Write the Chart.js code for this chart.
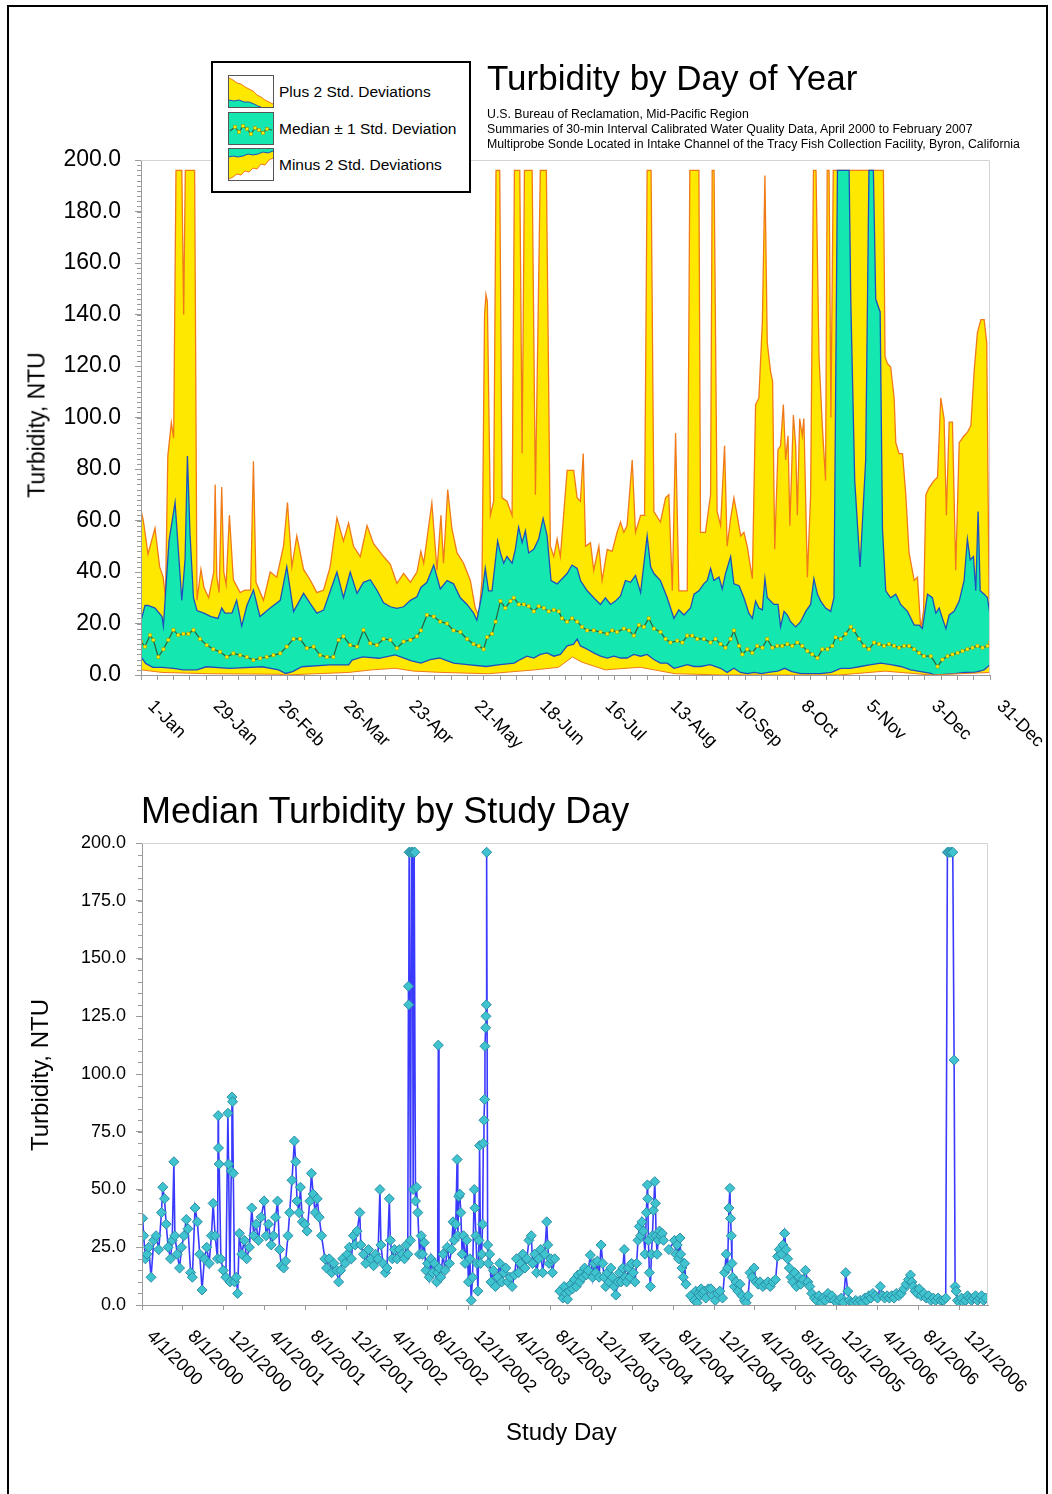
<!DOCTYPE html>
<html><head><meta charset="utf-8">
<script src="https://cdn.jsdelivr.net/npm/chart.js@4.4.1/dist/chart.umd.min.js"></script>
<style>
html,body{margin:0;padding:0;background:#fff}
body{width:1052px;height:1494px;position:relative;overflow:hidden;font-family:"Liberation Sans",Arial,sans-serif;color:#000}
#frame{position:absolute;left:7px;top:5px;width:1041px;height:1530px;border:2px solid #000;box-sizing:border-box}
canvas{position:absolute;left:0}
#c1{top:0}
#c2{top:780px}
.t{position:absolute;white-space:nowrap}
.rot{position:absolute;white-space:nowrap;transform:translate(-50%,-50%) rotate(-90deg)}
#legend{position:absolute;left:211px;top:61px;width:260px;height:132px;border:2px solid #000;box-sizing:border-box;background:#fff}
#legend .row{position:absolute;left:15px;height:33px;display:flex;align-items:center}
#legend .row span{margin-left:5px;font-size:15.5px}
#legend svg{display:block}
</style></head><body>
<div id="frame"></div>
<canvas id="c1" width="1052" height="780"></canvas>
<canvas id="c2" width="1052" height="714"></canvas>

<div class="t" style="left:487px;top:60px;font-size:35px;line-height:35px">Turbidity by Day of Year</div>
<div class="t" style="left:487px;top:107px;font-size:12.3px;line-height:15px">U.S. Bureau of Reclamation, Mid-Pacific Region<br>Summaries of 30-min Interval Calibrated Water Quality Data, April 2000 to February 2007<br>Multiprobe Sonde Located in Intake Channel of the Tracy Fish Collection Facility, Byron, California</div>

<div id="legend">
 <div class="row" style="top:12px">
  <svg width="46" height="33"><rect x="0.5" y="0.5" width="45" height="32" fill="#fff" stroke="#555"/>
   <polygon points="1,3 5,5 9,8 13,9 17,12 21,14 25,16 29,20 33,22 37,25 41,27 45,29 45,32 1,32" fill="#ffe800"/>
   <polyline points="1,3 5,5 9,8 13,9 17,12 21,14 25,16 29,20 33,22 37,25 41,27 45,29" fill="none" stroke="#f07a1a" stroke-width="1"/>
   <polygon points="1,25 6,26 11,25 16,27 21,27 26,29 30,31 33,32 1,32" fill="#14e8b0"/>
   <polyline points="1,25 6,26 11,25 16,27 21,27 26,29 30,31 33,32" fill="none" stroke="#1f4fbf" stroke-width="1"/>
   <rect x="0.5" y="0.5" width="45" height="32" fill="none" stroke="#555"/></svg>
  <span>Plus 2 Std. Deviations</span></div>
 <div class="row" style="top:49px">
  <svg width="46" height="33"><rect x="0.5" y="0.5" width="45" height="32" fill="#14e8b0" stroke="#555"/>
   <polyline points="2,19 7,15 11,20 15,14 19,17 23,22 27,16 31,18 35,21 39,17 44,18" fill="none" stroke="#2c5e3b" stroke-width="1.2"/>
   <g fill="#fff200" stroke="#a08a00" stroke-width="0.5">
   <rect x="5.5" y="13.5" width="3" height="3"/><rect x="9.5" y="18.5" width="3" height="3"/><rect x="13.5" y="12.5" width="3" height="3"/><rect x="17.5" y="15.5" width="3" height="3"/><rect x="21.5" y="20.5" width="3" height="3"/><rect x="25.5" y="14.5" width="3" height="3"/><rect x="29.5" y="16.5" width="3" height="3"/><rect x="33.5" y="19.5" width="3" height="3"/><rect x="37.5" y="15.5" width="3" height="3"/></g>
  </svg>
  <span>Median ± 1 Std. Deviation</span></div>
 <div class="row" style="top:85px">
  <svg width="46" height="33"><rect x="0.5" y="0.5" width="45" height="32" fill="#ffe800" stroke="#555"/>
   <polygon points="1,1 45,1 45,3 40,5 35,4 30,6 25,7 20,6 15,8 10,9 5,8 1,9" fill="#14e8b0"/>
   <polyline points="45,3 40,5 35,4 30,6 25,7 20,6 15,8 10,9 5,8 1,9" fill="none" stroke="#1f4fbf" stroke-width="1"/>
   <polygon points="1,31 5,29 9,26 13,27 17,23 21,24 25,20 29,21 33,16 37,17 41,12 45,10 45,32 1,32" fill="#fff"/>
   <polyline points="1,31 5,29 9,26 13,27 17,23 21,24 25,20 29,21 33,16 37,17 41,12 45,10" fill="none" stroke="#f07a1a" stroke-width="1"/>
   <rect x="0.5" y="0.5" width="45" height="32" fill="none" stroke="#555"/></svg>
  <span>Minus 2 Std. Deviations</span></div>
</div>

<div class="rot" style="left:37px;top:425px;font-size:23px">Turbidity, NTU</div>

<div class="t" style="left:141px;top:793px;font-size:36px;line-height:36px">Median Turbidity by Study Day</div>
<div class="rot" style="left:40px;top:1075px;font-size:24px">Turbidity, NTU</div>
<div class="t" style="left:506px;top:1420px;font-size:24px;line-height:24px">Study Day</div>

<script>
// ================= TOP CHART: statistics by day of year =================
const topTickLabels = ['1-Jan','29-Jan','26-Feb','26-Mar','23-Apr','21-May','18-Jun','16-Jul','13-Aug','10-Sep','8-Oct','5-Nov','3-Dec','31-Dec'];
const topTickDays = [1,29,57,85,113,141,169,197,225,253,281,309,337,365];

// Plus 2 standard deviations (capped at chart top)
const plus2Day = [1,2,4,5.5,7,9,10.5,11.5,12.5,14,15,16,18.5,19.3,20,24,25,26.7,28,30,32.2,32.8,33.5,34.5,35.6,36.5,37.5,38.9,40.6,43.5,45.6,48,49.2,50.3,53.5,56.4,59.2,62.1,63.8,65.7,67.8,70.7,73.5,76.4,79.3,82.1,85,87.8,90,92.1,95,97.9,100.7,105,107.9,110.7,113.6,116.5,119.3,121,122.2,125.7,127.9,129.6,130.7,132.5,134.3,136.5,139.3,142.2,144.3,145.8,147.2,148.3,148.9,149.5,150.8,152.2,153.2,154.8,155.8,157.9,160.1,161.1,163.4,164.4,165.4,168.7,170.1,172.2,174.8,176.5,178,179.4,180.8,183.7,186.5,188,189.4,190.6,191.6,193.7,195.1,197.3,198.7,200.9,203,205.1,206.6,208,209.4,211.6,213,215.2,216.9,218,219.7,220.9,223.7,225.9,227.3,228.8,230.2,231.6,233.8,235.2,236.3,240.2,240.9,243,245.2,245.9,246.7,248,249.5,251.2,252.3,253.8,255.2,256.6,258.1,259.5,260.9,263.1,264.5,265.9,267.4,268.5,269.5,270.9,271.8,272.7,274.1,275.2,276.4,277.4,278.4,279.2,280.7,281.7,282.4,283.4,284.5,285.2,286.7,288.1,289.3,290.4,291.7,293.1,294.5,295.2,296,296.8,297.8,319.3,320,321,322.4,323.9,324.6,326,327.5,328.9,330.3,332.5,333.9,335.3,336.5,337.5,338.9,341,342.5,343.9,345.3,346.3,347.5,348.9,350.3,351.8,353.9,355.3,356.8,358.2,359.6,361.1,362.5,363.6,364.6,365];
const plus2NTU = [64,60,47,52,57,42,38,30,85,98,92,196,196,140,196,196,29,41,34,30,40,74,38,32,73,40,35,62,37,32,33,33,83,36,29,40,38,50,67,42,54,41,37,32,33,42,61,52,59,50,46,58,51,46,43,35.6,39.5,36,40,48,43.4,66.8,40.7,62,43.4,72,56.8,47.4,43.4,36.7,26,23,36.7,140,147.7,145,62,67.5,196,196,68.8,67.5,62,196,196,86,196,196,70,196,196,50,46,52.8,46,79.5,79.5,68.8,67.5,86,50,51.4,40.7,50,36.7,48.8,48,55.4,59.4,55.4,58,83.5,55.4,62,62,196,196,63.5,59.4,68.8,70,32.7,94,32.7,32.7,32.7,196,196,55.4,55.4,70,196,196,63.5,58,89,50,60.8,68.8,62,54,55.4,50,37.4,105,107.6,137,194,129,118,114,48.8,87.5,89,105,83.5,92.9,58,101,89,62,99.6,92.9,99.6,38,70,196,196,123.6,96.9,75.5,196,196,100,196,196,123.6,121,119.6,107.6,90.2,86,86,70,47.4,36.7,38,18,24.7,70,72.8,75.5,76.8,107.6,99.6,62,98.2,98.2,40.7,90.2,92.9,94.2,96.9,118,133,138,138,129,30,30];

// Median + 1 standard deviation
const plus1Day = [1,2.7,4,7,10,10.6,13,15.6,18.5,19.9,20.9,22,23.5,25,28,31,34,35.6,37,40,42,44.2,46.4,49.2,52,56.4,60.7,63.5,66.4,70.7,73.5,76.4,79.3,82.1,85,87.8,90.7,93.6,96.4,99.3,102.1,105,107.9,110.7,113.6,116.5,119.3,121,123.6,126.5,129.3,132.2,135,137.9,140.8,143.6,145,147.2,148.6,150,151.5,153.9,155.1,156.5,157.9,160.1,161.5,162.9,164.4,165.8,167.2,169.4,171.5,173.4,175.1,176.8,179.4,183.7,185.8,188,189.4,192.3,195.1,198,200.1,202.3,204.4,206.6,208.7,210.9,213,215.2,218,219.5,220.9,223.7,226.6,229.5,231.6,233.8,236.6,238.1,240.2,242.3,243.8,245.2,246.6,248.8,250.2,251.6,253.8,255.2,257.4,259.5,261.6,263.1,264.5,265.9,267.4,268.5,269.5,272.4,274.1,275.2,276.7,278.1,279.5,281.7,283.8,286,288.1,289.5,291,292.4,294.5,296.7,298.1,299.6,304.6,305.3,307,309.3,311.7,313.1,315,316,317.9,318.9,320.3,322.4,324.6,326.7,329.6,332.5,334.6,336,338.2,340.3,341.8,343.2,344.6,346.1,347.5,349.6,351.8,353.9,355.3,356.5,357.9,358.9,359.9,360.8,362.5,363.9,365];
const plus1NTU = [21,27,27,26,22.7,19,52,67,29,45,85,55,30,25,24,22.7,22,26,24,24,29,19,27,33,22.7,26,29,42,24.6,31.7,27.8,24,25.2,32.4,40,30,40,31.7,36,37,33,28,26.5,25.9,26.5,29,30.4,34,36,42.7,33.4,36.7,35.4,30,27.4,24,21.3,31.4,41.4,32.7,32.7,52,47.4,43.4,46,43.4,48.8,57.4,51.4,56,47.4,48.8,52.8,60.8,54,36.7,35.4,39.4,42.7,41.4,36.7,32.7,30,27.4,30,27.4,28.7,30.7,36.7,36,38.7,32,54,42,39.4,36.7,30,22,25.3,23.3,26,31.4,32.7,35.4,36.7,41.4,36.7,38,33.4,39.4,46,35.4,34.7,30,24,22,28.7,26,25.3,37.4,30,27.4,27.4,18.7,24.7,23.3,20.7,18.7,20.7,24.7,27.4,37.4,31.4,28.7,26,24.7,30,196,196,146,75.5,42,83.5,196,196,146,141,56.8,32.7,30,31.4,27.4,24.7,19.4,19.4,18,31.4,30,24,26,22,18,23.3,24.7,28.7,36.7,52.8,44.7,46,32.7,63.5,32.7,31.4,30,23.3];

// Median
const medianDay = [1,2.7,4.9,6.3,8.4,10.6,12.7,14.9,17,19.2,21.3,23.5,26.3,29.2,32,34.9,37.8,40.6,43.5,46.4,49.2,52.1,54.9,57.8,60.7,63.5,66.4,69.2,72.1,75,77.8,80.7,83.5,85.7,87.8,90.7,93.6,96.4,99.3,102.1,105,107.9,110.7,113.6,116.5,119.3,121,123.6,126.5,129.3,132.2,135,137.9,140.8,143.6,145.8,147.9,149.4,151.5,153,155.1,157.2,159.4,160.8,163,165.1,167.2,169.4,171.5,173.7,175.8,178,180.1,181.5,183.7,185.8,188,190.1,192.3,195.1,198,200.9,203,205.1,208,210.2,212.3,214.5,216.6,218.7,220.9,223.7,225.9,228,230.9,233.1,235.2,237.3,239.5,242.3,245.2,247.3,249.5,251.6,253.8,255.2,257.4,258.8,260.9,263.1,265.2,267.4,269.5,271.7,273.8,275.9,278.1,280.2,282.4,284.5,286.7,288.8,291,293.1,295.3,297.4,298.8,301,303.1,305.3,306.7,308.9,311,313.1,315.3,317.4,319.6,321.7,323.9,326,328.2,330.3,332.5,334.6,336.7,339.6,342.5,344.6,346.8,348.9,351.1,353.2,355.3,357.5,359.6,361.8,363.9,365];
const medianNTUByDay = [13,11,15.5,13.6,7,10,13.6,17.5,15.5,16,16,17.5,14,11.6,10,9,7,8.4,7.7,7,5.8,6.5,7,7.7,8.4,11,14,14,10.4,11,7.7,7,7,13.6,15,11.6,11,17.5,12.3,11.6,14,13.6,10.4,13,13.6,15,17.3,23.3,22.7,20.7,20,17.3,16.7,14,12,11.3,10,14.7,16,20.7,28.7,26,28.7,30,27.4,27.4,26.7,24.7,26.7,26,24.7,25.3,24.7,22,20.7,22,20.7,18.7,17.3,17.3,16.7,16,17.3,16.7,18,17.3,15.3,19.4,18.7,22,18,16.7,14,12.6,13.3,12.6,15.3,15.3,14,14,12.6,14,12,10.6,14,17.3,11.3,8,10,8.6,11.3,10.6,14,10.6,11.3,11.3,12,11.3,12.6,11.3,9.3,8,6.6,10,10,11.3,14.6,14,16,18.7,17.3,14,11.3,10,12.6,12,11.3,12,11.3,10.6,11.3,11.3,10,8.6,7.3,7.3,3.3,6,7.3,8,8.6,9.3,10,10.6,11.3,10.6,11.3,12.6];

// Median - 1 standard deviation
const minus1Day = [1,3,6,10,15,19,25,29,39,53,60,63,66,70,82,90,91.5,96,103,110,117,121,125,129,135,141,149,155,161,163.6,166.5,169.4,172.2,175.1,178,180.8,183.7,186.5,188,189.4,192.3,195.1,198,200.9,203.7,206.6,209.4,212.3,215.2,218,220.9,223.7,226.6,229.5,232.3,235.2,238.1,241,245,249.5,252.3,255.2,258,261,264,267,270,274,277,280,284,288,292,297,301,305,309.5,314,318.2,322.4,326.7,331,335.3,339.6,341,344,347,350,354,358.5,362.5,365];
const minus1NTU = [7,4.5,3,3,2.6,2,2,3.2,2.6,3.2,2,0.6,1.3,3.2,3.9,3.9,5.8,7,6.5,7.8,5.5,4.6,6,6.6,4.6,4,3.3,4,4.6,6,7.3,6.6,8,8.6,7.3,8,11.3,12,14,11.3,10,8.6,7.3,6.6,7.3,6.6,6.6,8,7.3,8,6,4.6,4.6,2.6,3.3,4,3.3,3.3,4,2.6,1,2.6,1,0.5,1,0.5,1,1.5,2.6,1.3,0.5,0.5,0.5,1,2.6,2.6,3.3,4,4.6,4,3.3,2,1.3,0.6,0.1,0.1,0.3,0.5,1,1,2,4];

// Minus 2 standard deviations
const minus2Day = [1,10,30,60,63,90,100,110,118,130,150,170,180,186,190,200,215,230,250,300,320,340,365];
const minus2NTU = [2,1,0.5,0.3,0,1,2,2.6,1.5,1,0.5,2,3,7,5,2,3,0.5,0,0,1.5,0,1];

// ================= BOTTOM CHART: median by study day =================
const studyTickLabels = ['4/1/2000','8/1/2000','12/1/2000','4/1/2001','8/1/2001','12/1/2001','4/1/2002','8/1/2002','12/1/2002','4/1/2003','8/1/2003','12/1/2003','4/1/2004','8/1/2004','12/1/2004','4/1/2005','8/1/2005','12/1/2005','4/1/2006','8/1/2006','12/1/2006'];
// days counted from 4/1/2000
const studyDay = [2,5,10,15,20,27,35,42,50,58,62,67,72,78,85,90,95,98,105,112,118,125,132,137,145,150,158,165,172,179,186,193,200,207,212,218,225,227,228,230,235,242,250,256,258,262,266,268,270,272,276,281,285,290,297,305,312,320,327,333,340,347,355,364,370,377,385,392,398,404,410,415,422,428,435,440,447,454,458,462,468,472,478,485,492,500,505,510,516,522,528,535,545,550,558,565,572,580,586,592,598,605,612,618,624,630,635,641,649,652,660,667,675,682,690,696,703,709,712,718,725,730,737,740,746,752,760,767,775,782,788,792,794,795,796,798,800,803,806,808,811,813,815,818,822,827,832,836,841,846,851,856,861,866,872,878,881,883,885,890,897,903,910,916,922,927,930,935,939,941,944,947,950,954,958,963,968,973,977,981,985,990,992,995,998,1001,1004,1006,1009,1012,1015,1017,1019,1021,1022,1024,1025,1026,1027,1030,1032,1036,1040,1047,1053,1060,1066,1072,1078,1084,1090,1097,1103,1110,1116,1122,1128,1135,1141,1147,1153,1160,1164,1170,1176,1182,1188,1194,1200,1206,1209,1213,1218,1223,1230,1236,1245,1254,1258,1263,1268,1273,1278,1283,1289,1294,1299,1304,1309,1314,1319,1324,1330,1336,1343,1347,1352,1357,1362,1368,1373,1377,1382,1387,1392,1397,1402,1407,1412,1418,1423,1428,1433,1437,1440,1444,1449,1454,1459,1464,1469,1474,1478,1482,1486,1490,1494,1499,1503,1506,1507,1509,1512,1515,1518,1521,1524,1528,1530,1532,1535,1538,1542,1546,1550,1554,1557,1570,1587,1591,1595,1599,1603,1605,1609,1613,1617,1621,1625,1635,1646,1650,1654,1658,1662,1666,1670,1675,1680,1688,1695,1701,1708,1715,1722,1730,1736,1741,1745,1749,1752,1754,1756,1758,1760,1765,1770,1776,1782,1788,1795,1800,1806,1812,1818,1824,1830,1836,1842,1850,1858,1865,1872,1880,1888,1894,1899,1905,1910,1915,1919,1924,1929,1934,1939,1945,1950,1957,1963,1970,1977,1984,1990,1996,2004,2010,2017,2024,2030,2036,2044,2050,2056,2063,2070,2077,2084,2090,2097,2103,2108,2114,2120,2127,2133,2140,2147,2154,2160,2166,2172,2178,2185,2192,2200,2207,2213,2220,2227,2234,2241,2248,2255,2262,2270,2277,2284,2290,2294,2298,2304,2310,2316,2322,2330,2337,2344,2351,2358,2365,2372,2380,2388,2395,2400,2403,2408,2412,2416,2420,2423,2426,2430,2436,2442,2448,2454,2460,2466,2472,2478,2484,2490,2496,2502,2508,2514,2520];
const medianNTU = [37.5,30,20,22,25,12,28,30,24,40,51,46,35,25,20,28,62,30,22,16,25,30,37,33,14,12,42,36,22,6.5,20,25,18,30,44,30,20,82,68,61,20,15,12,83,61,10,58,90,88,57,10,12,5,31,22,28,20,25,42,30,35,28,38,45,30,35,26,30,38,45,24,17,16,19,30,40,54,71,62,45,40,51,36,35,32,45,57,48,40,46,38,30,20,16,20,14,18,15,10,15,20,18,22,25,20,30,26,32,40,26,22,18,24,20,17,22,20,50,26,18,14,16,46,28,20,24,20,24,22,20,26,22,138,130,196,196,28,196,196,50,196,196,45,51,40,22,30,22,27,15,18,12,20,14,18,10,14,112.5,16,12,22,15,25,18,24,36,28,35,63,30,47,48,40,22,30,18,28,10,20,2,12,50,42,30,18,6,28,69,18,22,35,70,80,89,112,120,125,130,196,26,18,22,10,15,8,12,18,10,14,16,10,12,8,13,20,14,18,22,16,20,28,30,18,22,14,20,24,14,22,36,26,18,20,14,20,null,6,3,8,5,2.5,6,9,7,11,8,13,10,14,12,16,13,15,21.6,12,18,14,19,12,26,18,12,8,14,10,16,12,8,4.3,10,14,10,16,24,12,10,16,12,18,14,10,18,28,34,30,36,32,22,40,52,46,28,14,8,22,30,41,53.4,44,30,22,28,32,30,31,28,null,24,28,22,26,20,29,22,16,12,18,9,null,4,2,6,1,5,4,7,5,6,3,7,7,4,2,5,6,3,14,22,16,42,50.5,37.5,30,18,12,8,10,6,9,4,2,1,4,14,12,16,10,9,10,8,9,10,8,10,11,21,24,22,26,31,24,20,16,12,10,14,8,12,9,11,15,10,8,5,3,2,4,1,3,2,5,3,4,2,1,2,3,1,14,6,2,1,1,2,1,2,1,3,2,4,3,5,4,3,8,4,3,4,3,4,3,5,4,5,7,9,11,13,10,8,6,5,7,4,5,3,4,2,3,2,3,2,2,3,196,196,196,196,196,106,8,6,2,1,3,1,2,4,3,2,3,4,2,3,4,2,3];

// ================= helpers =================
Chart.defaults.font.family = '"Liberation Sans", Arial, sans-serif';
Chart.defaults.color = '#000';
const pts = (xs, ys) => xs.map((x, i) => ({x: x, y: ys[i]}));
const dayOf = s => { const p = s.split('/').map(Number); return Math.round((Date.UTC(p[2], p[0]-1, p[1]) - Date.UTC(2000, 3, 1)) / 86400000); };
const studyTickDays = studyTickLabels.map(dayOf);
const weekTicks = []; for (let d = 1; d <= 365; d += 7) weekTicks.push(d);

function makeDecor(cfg) {
  return {
    id: 'decor',
    afterDraw(chart) {
      const ctx = chart.ctx, a = chart.chartArea, xs = chart.scales.x, ys = chart.scales.y;
      ctx.save();
      ctx.lineWidth = 1;
      ctx.strokeStyle = '#d4d4d4';
      ctx.beginPath();
      ctx.moveTo(a.left, a.top + 0.5); ctx.lineTo(a.right - 0.5, a.top + 0.5); ctx.lineTo(a.right - 0.5, a.bottom);
      ctx.stroke();
      ctx.strokeStyle = '#9a9a9a';
      ctx.beginPath();
      for (let v = ys.min; v <= ys.max + 1e-9; v += cfg.yMinor) {
        const py = Math.round(ys.getPixelForValue(v)) + 0.5;
        ctx.moveTo(a.left - 4, py); ctx.lineTo(a.left, py);
      }
      ctx.stroke();
      ctx.fillStyle = '#000';
      ctx.font = cfg.font;
      ctx.textAlign = 'left'; ctx.textBaseline = 'top';
      cfg.labels.forEach((lab, i) => {
        const px = xs.getPixelForValue(cfg.positions[i]);
        ctx.save();
        ctx.translate(px + cfg.dx, a.bottom + cfg.dy);
        ctx.rotate(Math.PI / 4);
        ctx.fillText(lab, 0, 0);
        ctx.restore();
      });
      ctx.restore();
    }
  };
}

const yellow = '#ffe800', green = '#14e8b0', orange = '#f07a1a', blue = '#1f4fbf';

new Chart(document.getElementById('c1'), {
  type: 'line',
  data: {
    datasets: [
      {label: 'Median', data: pts(medianDay, medianNTUByDay), borderColor: '#2c5e3b', borderWidth: 1.2, pointStyle: 'rect', pointRadius: 2.2, pointBackgroundColor: '#fff200', pointBorderColor: '#a89000', pointBorderWidth: 0.5, fill: false},
      {label: 'Minus 2 Std. Deviations', data: pts(minus2Day, minus2NTU), borderColor: orange, borderWidth: 1, pointRadius: 0, fill: 'origin', backgroundColor: '#ffffff'},
      {label: 'Median - 1 Std. Deviation', data: pts(minus1Day, minus1NTU), borderColor: blue, borderWidth: 1.3, pointRadius: 0, fill: 'origin', backgroundColor: yellow},
      {label: 'Median + 1 Std. Deviation', data: pts(plus1Day, plus1NTU), borderColor: blue, borderWidth: 1.3, pointRadius: 0, fill: 'origin', backgroundColor: green},
      {label: 'Plus 2 Std. Deviations', data: pts(plus2Day, plus2NTU), borderColor: orange, borderWidth: 1.3, pointRadius: 0, fill: 'origin', backgroundColor: yellow}
    ]
  },
  options: {
    responsive: false, animation: false, events: [],
    layout: {padding: {left: 0, top: 160, right: 62, bottom: 0}},
    plugins: {legend: {display: false}, tooltip: {enabled: false}},
    elements: {line: {tension: 0}},
    scales: {
      x: {type: 'linear', min: 1, max: 365,
          afterBuildTicks: s => { s.ticks = weekTicks.map(v => ({value: v})); },
          ticks: {display: false},
          grid: {drawOnChartArea: false, drawTicks: true, tickLength: 5, tickColor: '#9a9a9a'},
          border: {color: '#9a9a9a', z: 1},
          afterFit: s => { s.height = 105; }},
      y: {min: 0, max: 200,
          ticks: {stepSize: 20, callback: v => Number(v).toFixed(1), font: {size: 23}, color: '#000', padding: 14},
          grid: {drawOnChartArea: false, tickLength: 6, tickColor: '#9a9a9a'},
          border: {color: '#9a9a9a', z: 1},
          afterFit: s => { s.width = 141; }}
    }
  },
  plugins: [makeDecor({labels: topTickLabels, positions: topTickDays, yMinor: 2, font: '18px "Liberation Sans", Arial, sans-serif', dx: 16, dy: 22})]
});

new Chart(document.getElementById('c2'), {
  type: 'line',
  data: {
    datasets: [
      {label: 'Median Turbidity', data: pts(studyDay, medianNTU), borderColor: '#3a3aff', borderWidth: 1.6, spanGaps: false,
       pointStyle: 'rectRot', pointRadius: 5, pointBackgroundColor: '#3fc3cf', pointBorderColor: '#2a8ea6', pointBorderWidth: 1, fill: false}
    ]
  },
  options: {
    responsive: false, animation: false, events: [],
    layout: {padding: {left: 0, top: 63, right: 64, bottom: 0}},
    plugins: {legend: {display: false}, tooltip: {enabled: false}},
    elements: {line: {tension: 0}},
    scales: {
      x: {type: 'linear', min: 0, max: 2521,
          afterBuildTicks: s => { s.ticks = studyTickDays.map(v => ({value: v})); },
          ticks: {display: false},
          grid: {drawOnChartArea: false, drawTicks: true, tickLength: 5, tickColor: '#9a9a9a'},
          border: {color: '#9a9a9a', z: 1},
          afterFit: s => { s.height = 189; }},
      y: {min: 0, max: 200,
          ticks: {stepSize: 25, callback: v => Number(v).toFixed(1), font: {size: 18}, color: '#000', padding: 10},
          grid: {drawOnChartArea: false, tickLength: 6, tickColor: '#9a9a9a'},
          border: {color: '#9a9a9a', z: 1},
          afterFit: s => { s.width = 142; }}
    }
  },
  plugins: [makeDecor({labels: studyTickLabels, positions: studyTickDays, yMinor: 5, font: '18px "Liberation Sans", Arial, sans-serif', dx: 14, dy: 22})]
});
</script>
</body></html>
